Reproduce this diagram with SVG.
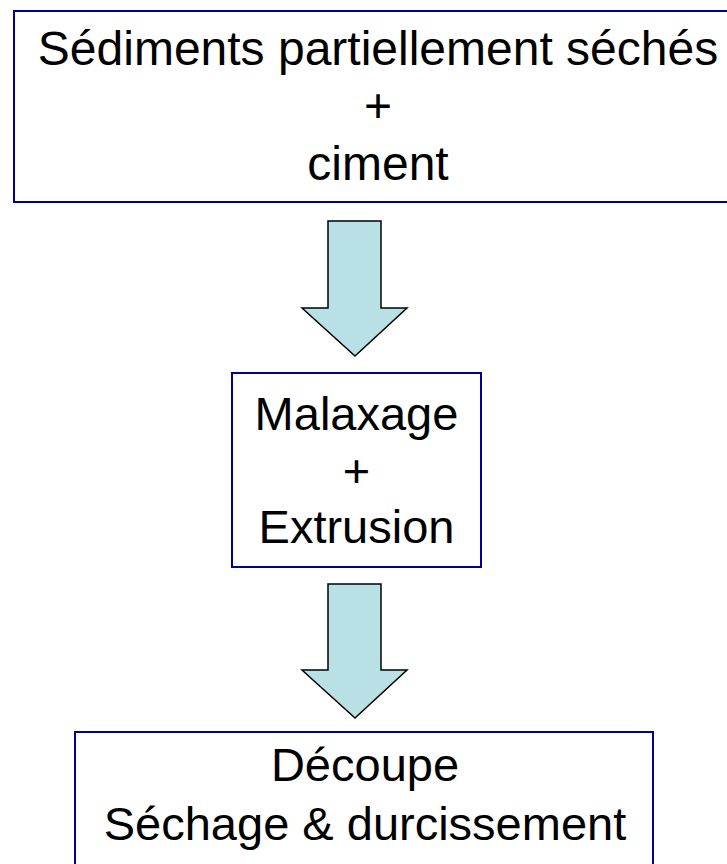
<svg xmlns="http://www.w3.org/2000/svg" width="727" height="864" viewBox="0 0 727 864">
<style>
.box{fill:#ffffff;stroke:#000099;stroke-width:2}
.t{font-family:"Liberation Sans",Arial,sans-serif;font-size:47px;fill:#000000;text-anchor:middle}
.big{font-size:48px}
.arrow{fill:#b9e0e4;stroke:#000000;stroke-width:1.5;stroke-linejoin:miter}
</style>
<rect width="727" height="864" fill="#ffffff"/>
<g id="node-sediments">
<rect class="box" x="14" y="11" width="730" height="191"/>
<text class="t big" x="378" y="65">Sédiments partiellement séchés</text>
<text class="t big" x="378" y="122">+</text>
<text class="t big" x="378" y="180">ciment</text>
</g>
<g id="node-malaxage">
<rect class="box" x="232" y="373" width="249" height="194"/>
<text class="t" x="356.5" y="430">Malaxage</text>
<text class="t" x="356.5" y="487">+</text>
<text class="t" x="356.5" y="543">Extrusion</text>
</g>
<g id="node-decoupe">
<rect class="box" x="75" y="732" width="578" height="150"/>
<text class="t" x="365" y="781">Découpe</text>
<text class="t" x="365" y="840">Séchage &amp; durcissement</text>
</g>
<g id="connectors">
<path class="arrow" d="M328,221 H381 V308 H407 L355,356 L302,308 H328 Z"/>
<path class="arrow" d="M328,584 H381 V670 H407 L355,718 L302,670 H328 Z"/>
</g>
</svg>
